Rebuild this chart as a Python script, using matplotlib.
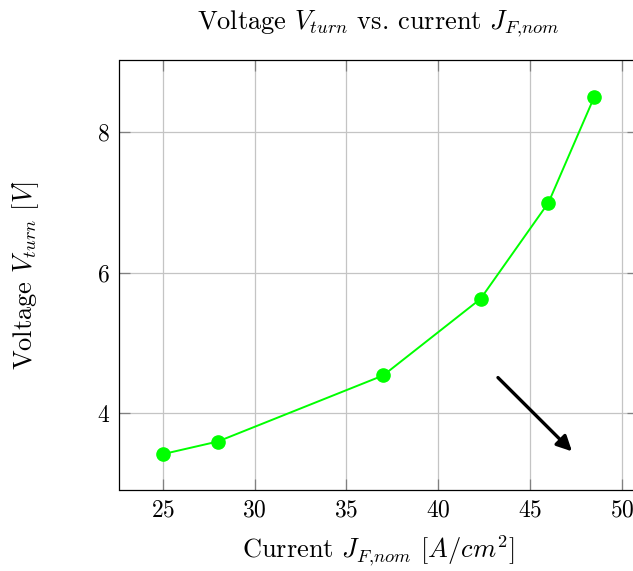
import numpy as np
import matplotlib
matplotlib.use('Agg')
import matplotlib.pyplot as plt

plt.rcParams['font.family'] = 'cmr10'
plt.rcParams['mathtext.fontset'] = 'cm'
plt.rcParams['axes.formatter.use_mathtext'] = True
plt.rcParams['axes.unicode_minus'] = False

# nominal current density [A/cm^2] and turn-on voltage [V]
current = [25, 28, 37, 42.3, 46, 48.5]
voltage = [3.42, 3.60, 4.54, 5.63, 7.0, 8.51]

x_ticks = [25, 30, 35, 40, 45, 50]
y_ticks = [4, 6, 8]

# arrow drawn inside the axes (data coordinates)
arrow_start = (43.25, 4.51)
arrow_end = (47.28, 3.46)

W, H = 633, 571
fig = plt.figure(figsize=(W / 100, H / 100), dpi=100)
ax = fig.add_axes([119.5 / W, 1 - 490 / H, (637.6 - 119.5) / W, (490 - 60) / H])

ax.plot(current, voltage, color='#00ff00', lw=1.4, marker='o', ms=9.5,
        zorder=3)

ax.annotate('', xy=arrow_end, xytext=arrow_start,
            arrowprops=dict(arrowstyle='-|>,head_length=0.9,head_width=0.45',
                            color='black', lw=2.4, shrinkA=0, shrinkB=0),
            zorder=4)

ax.set_xlim(22.65, 50.85)
ax.set_ylim(2.91, 9.03)
ax.set_xticks(x_ticks)
ax.set_yticks(y_ticks)
ax.grid(True, color='#c4c4c4', lw=0.9)
ax.set_axisbelow(True)
ax.tick_params(direction='in', length=8, width=0.9, color='#808080',
               top=True, right=True, labelsize=17, pad=7)
for s in ax.spines.values():
    s.set_linewidth(0.9)
    s.set_color('black')

ax.set_xlabel(r'Current $J_{F,\!nom}$ $[A/cm^2]$', fontsize=19, labelpad=9)
ax.set_ylabel(r'Voltage $V_{turn}$ $[V]$', fontsize=19, labelpad=40)
ax.set_title(r'Voltage $V_{turn}$ vs. current $J_{F,\!nom}$', fontsize=19,
             pad=22)

fig.savefig('out.png', dpi=100)
